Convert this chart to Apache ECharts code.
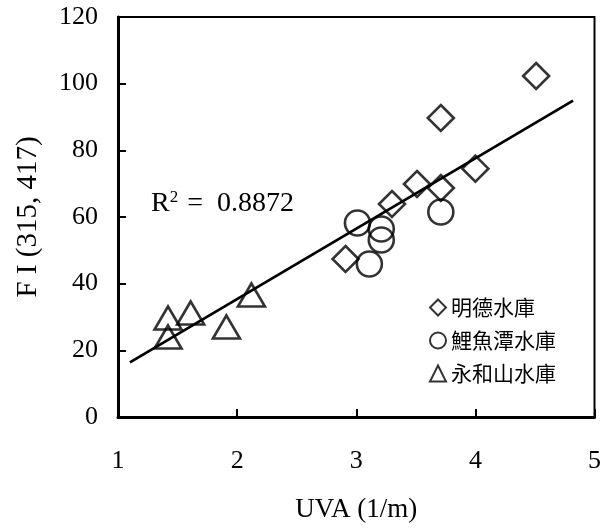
<!DOCTYPE html>
<html>
<head>
<meta charset="utf-8">
<script src="https://cdn.jsdelivr.net/npm/echarts@6/dist/echarts.min.js"></script>
<style>html,body{margin:0;padding:0;background:#fff}#c{width:604px;height:531px}</style>
</head>
<body>
<div id="c"></div>
<script>
// Data
const seriesNames = ['明德水庫', '鯉魚潭水庫', '永和山水庫'];
const mingdeX = [4.51, 3.71, 4.00, 3.71, 3.51, 3.30, 2.91];
const mingdeY = [102.3, 89.7, 74.5, 68.7, 69.9, 63.9, 47.4];
const liyutanX = [3.01, 3.21, 3.21, 3.11, 3.71];
const liyutanY = [58.2, 56.4, 53.1, 45.9, 61.5];
const yonghesanX = [1.42, 1.42, 1.61, 1.91, 2.12];
const yonghesanY = [29.7, 24.0, 31.2, 27.0, 36.6];
const fitX = [1.10, 4.82];
const fitY = [16.4, 94.9];
const xTicks = [1, 2, 3, 4, 5];
const yTicks = [0, 20, 40, 60, 80, 100, 120];

const zip = (xs, ys) => xs.map((x, i) => [x, ys[i]]);
const serif = 'Liberation Serif';
const cjk = 'Noto Sans CJK TC';

const chart = echarts.init(document.getElementById('c'));
const markerStyle = { color: 'transparent', borderColor: '#000', borderWidth: 2.6 };
chart.setOption({
  animation: false,
  backgroundColor: '#fff',
  grid: { left: 118, top: 17, right: 7, bottom: 114, show: true, borderColor: '#000', borderWidth: 2 },
  xAxis: {
    type: 'value', min: xTicks[0], max: xTicks[xTicks.length - 1], interval: 1,
    name: 'UVA (1/m)', nameLocation: 'middle', nameGap: 79,
    nameTextStyle: { fontFamily: serif, fontSize: 27, color: '#000' },
    axisLine: { lineStyle: { color: '#000', width: 3 } },
    axisTick: { inside: true, length: 8, lineStyle: { color: '#000', width: 2 } },
    axisLabel: { fontFamily: serif, fontSize: 26, color: '#000', margin: 31 },
    splitLine: { show: false }
  },
  yAxis: {
    type: 'value', min: yTicks[0], max: yTicks[yTicks.length - 1], interval: 20,
    name: 'F I (315, 417)', nameLocation: 'middle', nameGap: 75, nameRotate: 90,
    nameTextStyle: { fontFamily: serif, fontSize: 29, color: '#000' },
    axisLine: { lineStyle: { color: '#000', width: 3 } },
    axisTick: { inside: true, length: 8, lineStyle: { color: '#000', width: 2 } },
    axisLabel: { fontFamily: serif, fontSize: 26, color: '#000', margin: 20 },
    splitLine: { show: false }
  },
  legend: {
    data: seriesNames, orient: 'vertical', left: 424, top: 292, itemGap: 12,
    itemWidth: 16, itemHeight: 16,
    textStyle: { fontFamily: cjk, fontSize: 21, color: '#000' }
  },
  graphic: [{
    type: 'text', left: 151, top: 189,
    style: {
      text: '{r|R}{s|2}{r| =  0.8872}',
      rich: {
        r: { fontFamily: serif, fontSize: 28, fill: '#000' },
        s: { fontFamily: serif, fontSize: 17, fill: '#000', verticalAlign: 'top', padding: [0, 2, 12, 0] }
      }
    }
  }],
  series: [
    { name: seriesNames[0], type: 'scatter', symbol: 'diamond', symbolSize: [26, 26], data: zip(mingdeX, mingdeY), itemStyle: markerStyle, z: 3 },
    { name: seriesNames[1], type: 'scatter', symbol: 'circle', symbolSize: 25, data: zip(liyutanX, liyutanY), itemStyle: markerStyle, z: 3 },
    { name: seriesNames[2], type: 'scatter', symbol: 'triangle', symbolSize: [27, 23], data: zip(yonghesanX, yonghesanY), itemStyle: markerStyle, z: 3 },
    { name: 'fit', type: 'line', data: zip(fitX, fitY), showSymbol: false, symbol: 'none', lineStyle: { color: '#000', width: 2.8 }, z: 2 }
  ]
});
</script>
</body>
</html>
